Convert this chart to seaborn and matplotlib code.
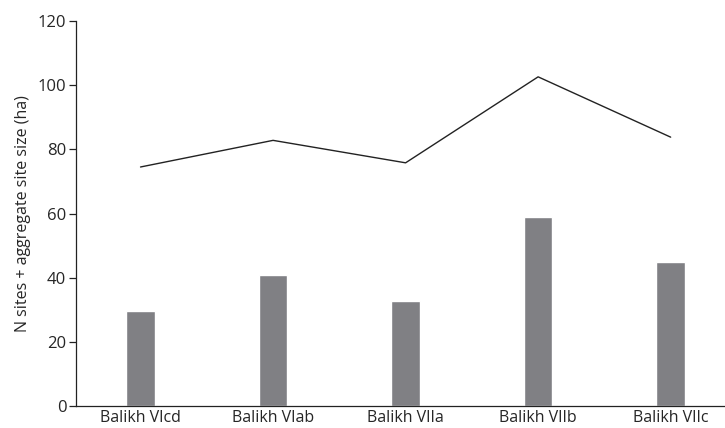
import matplotlib
matplotlib.use("Agg")
import matplotlib.pyplot as plt
import seaborn as sns
import pandas as pd

# values
phases = ["Balikh VIcd", "Balikh VIab", "Balikh VIIa", "Balikh VIIb", "Balikh VIIc"]
n_sites = [29.6, 40.8, 32.7, 58.9, 44.9]
agg_size = [74.5, 82.8, 75.8, 102.6, 83.8]

df = pd.DataFrame({"phase": phases, "n_sites": n_sites, "agg_size": agg_size})

sns.set_style("white")
plt.rcParams["font.family"] = ["Open Sans", "DejaVu Sans"]

fig = plt.figure(figsize=(7.25, 4.28), dpi=100)
ax = fig.add_axes([0.1048, 0.0514, 0.8952, 0.8995])

sns.barplot(data=df, x="phase", y="n_sites", color="#808084", width=0.215,
            saturation=1, ax=ax)
sns.lineplot(data=df, x="phase", y="agg_size", sort=False, color="#222222",
             linewidth=1.0, ax=ax)

ax.set_xlim(-0.487, 4.41)
ax.set_ylim(0, 120)
ax.set_yticks(range(0, 121, 20))
ax.set_xlabel("")
ax.set_ylabel("N sites + aggregate site size (ha)", fontsize=11.5, labelpad=5)
ax.tick_params(axis="y", direction="out", length=5, width=0.9, labelsize=12,
               left=True, pad=2, color="#222222")
ax.tick_params(axis="x", length=0, labelsize=11.5, pad=3)

for side in ["top", "right"]:
    ax.spines[side].set_visible(False)
for side in ["left", "bottom"]:
    ax.spines[side].set_color("#222222")
    ax.spines[side].set_linewidth(0.9)

fig.savefig("out.png", dpi=100)
